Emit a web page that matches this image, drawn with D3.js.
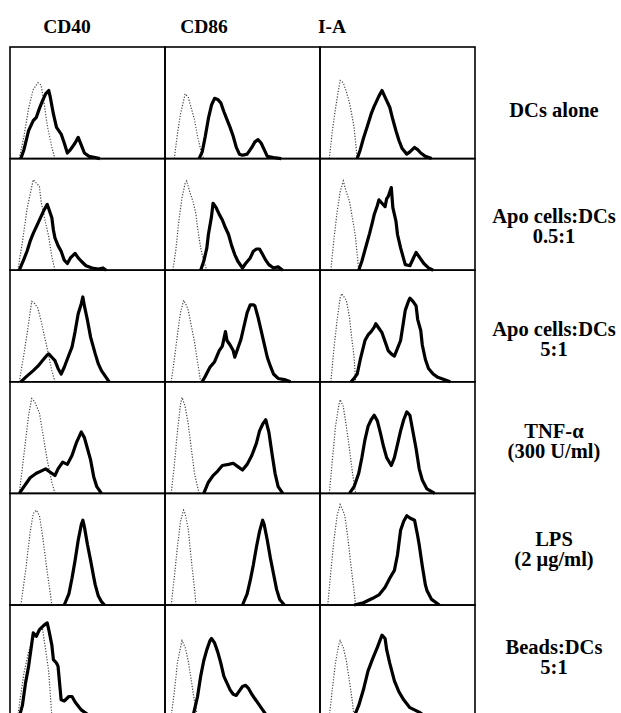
<!DOCTYPE html>
<html>
<head>
<meta charset="utf-8">
<script src="https://cdn.jsdelivr.net/npm/d3@7"></script>
<style>
  body { margin: 0; background: #fff; }
  text { font-family: "Liberation Serif", "Times New Roman", serif; font-weight: bold; fill: #000; }
</style>
</head>
<body>
<div id="chart_svg"></div>
<script>
// column headers and row (treatment) labels
const markers = ["CD40", "CD86", "I-A"]
const treatments = [
  ["DCs alone"],
  ["Apo cells:DCs", "0.5:1"],
  ["Apo cells:DCs", "5:1"],
  ["TNF-\u03b1", "(300 U/ml)"],
  ["LPS", "(2 \u03bcg/ml)"],
  ["Beads:DCs", "5:1"]
]

// histogram outlines, [fluorescence %, count %], one list per row
const cd40Control = [
  [[6,0],[9,20],[12,45],[15,62],[18,68],[20,66],[22,50],[24,30],[27,10],[29,0]],
  [[5,0],[8,25],[11,55],[15,81],[17,78],[19,75],[20,62],[23,42],[25,30],[27,12],[29,0]],
  [[6,0],[9,25],[11,43],[14,72],[16,70],[18,66],[20,55],[22,42],[24,30],[27,10],[29,0]],
  [[6,0],[9,35],[12,70],[14,85],[16,82],[19,72],[21,55],[24,30],[27,10],[29,0]],
  [[7,0],[10,30],[13,65],[15,82],[17,85],[19,80],[21,62],[24,30],[27,0]],
  [[5,0],[7,20],[9,39],[12,58],[15,70],[18,76],[21,78],[23,60],[25,40],[27,0]]
]
const cd40Stained = [
  [[7,0],[9,8],[12,25],[15,34],[17,37],[19,45],[21,52],[23,58],[25,61],[26,55],[28,40],[30,28],[33,22],[35,14],[37,5],[39,8],[42,14],[44,19],[46,12],[48,5],[51,2],[55,1],[58,0]],
  [[6,0],[9,10],[11,17],[13,26],[15,33],[18,42],[20,48],[22,54],[24,59],[25,55],[27,47],[28,36],[29,29],[31,22],[33,17],[35,9],[37,6],[39,11],[42,15],[44,11],[46,8],[49,4],[53,2],[57,1],[60,2],[62,0]],
  [[7,0],[10,4],[15,10],[18,14],[21,19],[24,24],[25,25],[27,22],[29,19],[31,12],[33,7],[35,13],[38,24],[40,31],[42,45],[44,61],[46,70],[47,76],[48,68],[50,55],[52,40],[55,25],[57,16],[59,10],[62,4],[64,0]],
  [[6,0],[9,6],[13,14],[17,18],[20,20],[23,22],[26,19],[29,16],[31,22],[34,28],[37,26],[40,34],[43,46],[45,52],[46,55],[48,50],[50,40],[52,30],[54,15],[56,6],[59,0]],
  [[35,0],[38,10],[40,24],[42,40],[44,58],[46,72],[47,76],[48,70],[50,54],[52,40],[54,25],[55,18],[57,8],[59,3],[61,0]],
  [[6,0],[8,10],[10,30],[12,45],[14,65],[15,75],[17,72],[19,78],[22,82],[24,84],[25,78],[27,64],[28,51],[30,48],[31,45],[33,15],[35,14],[38,18],[40,18],[42,13],[46,6],[50,2],[52,0]]
]
const cd86Control = [
  [[6,0],[8,22],[10,40],[12,52],[13,58],[15,55],[17,45],[19,35],[21,20],[23,8],[25,0]],
  [[5,0],[7,18],[9,45],[11,65],[13,78],[14,80],[16,70],[18,62],[20,50],[21,38],[23,20],[25,8],[27,0]],
  [[4,0],[6,20],[8,42],[10,62],[12,73],[14,68],[15,64],[17,50],[19,36],[21,18],[23,0]],
  [[4,0],[6,25],[8,55],[10,80],[11,86],[13,78],[15,62],[17,40],[19,18],[22,0]],
  [[4,0],[6,25],[8,52],[10,75],[12,85],[13,82],[15,68],[17,40],[19,15],[20,0]],
  [[4,0],[6,22],[8,48],[10,62],[11,68],[13,62],[15,50],[17,32],[19,14],[21,0]]
]
const cd86Stained = [
  [[22,0],[24,6],[26,20],[28,36],[30,48],[32,54],[34,53],[36,50],[38,42],[40,35],[42,28],[44,20],[46,10],[48,4],[50,3],[53,4],[56,10],[58,15],[60,17],[62,14],[64,8],[66,2],[70,1],[75,0]],
  [[23,0],[25,8],[27,20],[28,32],[30,48],[31,60],[33,56],[35,50],[37,45],[39,38],[41,32],[43,22],[45,14],[47,8],[50,2],[52,6],[55,11],[57,17],[59,19],[61,19],[63,14],[65,9],[67,5],[70,2],[73,3],[76,0]],
  [[24,0],[26,5],[29,13],[32,18],[35,28],[37,32],[39,45],[40,37],[42,33],[44,28],[45,22],[47,30],[49,38],[51,50],[53,62],[55,69],[57,69],[58,68],[60,58],[62,46],[64,34],[66,22],[68,14],[70,7],[73,3],[77,2],[81,0]],
  [[25,0],[28,10],[31,16],[34,20],[37,25],[41,26],[44,27],[47,24],[50,21],[53,26],[56,34],[59,45],[61,56],[63,62],[65,66],[67,55],[69,36],[71,18],[73,6],[76,0]],
  [[50,0],[53,10],[55,22],[57,36],[59,52],[61,66],[63,76],[64,72],[66,58],[68,42],[70,28],[72,14],[74,5],[77,0]],
  [[18,0],[21,18],[23,36],[25,50],[27,60],[29,68],[30,70],[32,66],[34,58],[36,48],[38,36],[40,30],[42,24],[44,20],[46,19],[48,23],[50,27],[52,28],[54,25],[56,20],[58,16],[60,12],[63,6],[66,0]]
]
const iaControl = [
  [[6,0],[8,25],[10,45],[12,62],[13,70],[15,68],[17,60],[19,50],[20,43],[22,28],[24,0]],
  [[7,0],[9,28],[11,52],[13,70],[15,80],[17,70],[19,62],[20,54],[22,38],[23,28],[25,0]],
  [[7,0],[9,30],[11,55],[13,75],[14,79],[16,75],[17,73],[19,58],[20,45],[22,22],[23,0]],
  [[6,0],[8,30],[10,60],[12,78],[13,84],[15,78],[17,60],[19,40],[21,18],[23,0]],
  [[5,0],[7,30],[9,58],[11,80],[13,90],[15,84],[16,80],[18,60],[20,35],[22,12],[23,0]],
  [[6,0],[8,25],[10,48],[12,64],[13,68],[15,62],[17,50],[19,32],[21,12],[22,0]]
]
const iaStained = [
  [[24,0],[26,8],[28,18],[31,31],[33,40],[35,47],[36,50],[38,56],[40,61],[41,58],[43,52],[45,46],[47,35],[49,25],[51,16],[53,9],[56,4],[58,6],[61,10],[63,8],[65,5],[68,2],[72,0]],
  [[25,0],[27,8],[30,23],[32,33],[34,44],[35,50],[37,58],[38,63],[40,60],[42,57],[43,64],[44,66],[46,74],[47,56],[49,44],[50,32],[52,20],[55,5],[58,4],[60,10],[62,16],[64,12],[67,6],[70,2],[73,0]],
  [[20,0],[22,3],[24,7],[26,20],[29,37],[31,42],[33,45],[35,49],[36,52],[38,48],[40,44],[42,36],[44,28],[46,25],[48,23],[50,30],[52,37],[54,55],[55,64],[57,72],[58,75],[60,72],[62,68],[63,56],[65,46],[66,33],[68,20],[70,12],[73,7],[76,4],[80,2],[84,0]],
  [[19,0],[22,6],[25,18],[27,32],[29,48],[31,60],[33,66],[35,70],[37,65],[39,54],[41,42],[43,32],[46,25],[48,32],[50,44],[52,56],[54,66],[56,73],[58,70],[60,55],[62,40],[64,22],[66,12],[69,4],[74,0]],
  [[22,0],[28,2],[34,6],[38,9],[42,16],[45,24],[48,31],[50,45],[52,67],[54,75],[56,80],[58,78],[61,76],[63,62],[64,54],[66,35],[68,18],[69,13],[72,5],[77,0]],
  [[22,0],[25,10],[28,24],[31,41],[34,52],[37,62],[40,73],[42,70],[43,60],[45,48],[48,32],[51,22],[54,15],[58,8],[64,4],[68,0]]
]

const stained = [cd40Stained, cd86Stained, iaStained]
const controls = [cd40Control, cd86Control, iaControl]

function makeFigure() {
  const totalWidth = 621
  const totalHeight = 713

  // grid of panels
  const left = 10, top = 47
  const panelW = 155, panelH = 111.6
  const labelX = 554
  const headerX = [67, 204, 332]
  const labelY = [117, 223, 336, 438, 546, 654]   // first-line baselines
  const lineGap = 20

  const svg = d3.select("#chart_svg")
    .append("svg")
    .attr("width", totalWidth)
    .attr("height", totalHeight)

  const x = d3.scaleLinear().domain([0, 100]).range([0, panelW])
  const y = d3.scaleLinear().domain([0, 100]).range([panelH, 0])

  const line = d3.line()
    .x(function(d) { return x(d[0]) })
    .y(function(d) { return y(d[1]) })

  // column headers
  svg.selectAll("text.header")
    .data(markers)
    .enter().append("text")
    .attr("class", "header")
    .attr("x", function(d, i) { return headerX[i] })
    .attr("y", 33)
    .attr("text-anchor", "middle")
    .style("font-size", "19.5px")
    .text(function(d) { return d })

  treatments.forEach(function(lbl, r) {
    const py = top + r * panelH

    markers.forEach(function(m, c) {
      const g = svg.append("g")
        .attr("transform", "translate(" + (left + c * panelW) + "," + py + ")")

      g.append("path")
        .datum(controls[c][r])
        .attr("fill", "none")
        .attr("stroke", "#444")
        .attr("stroke-width", 1.2)
        .attr("stroke-dasharray", "1.2,1.6")
        .attr("d", line)

      g.append("path")
        .datum(stained[c][r])
        .attr("fill", "none")
        .attr("stroke", "#000")
        .attr("stroke-width", 3.2)
        .attr("stroke-linejoin", "round")
        .attr("d", line)

      g.append("rect")
        .attr("width", panelW)
        .attr("height", panelH)
        .attr("fill", "none")
        .attr("stroke", "#000")
        .attr("stroke-width", 1.6)
    })

    // treatment label
    svg.append("text")
      .attr("x", labelX)
      .attr("text-anchor", "middle")
      .style("font-size", "20.5px")
      .selectAll("tspan")
      .data(lbl)
      .enter().append("tspan")
      .attr("x", labelX)
      .attr("y", function(d, i) { return labelY[r] + i * lineGap })
      .text(function(d) { return d })
  })
}

makeFigure()
</script>
</body>
</html>
